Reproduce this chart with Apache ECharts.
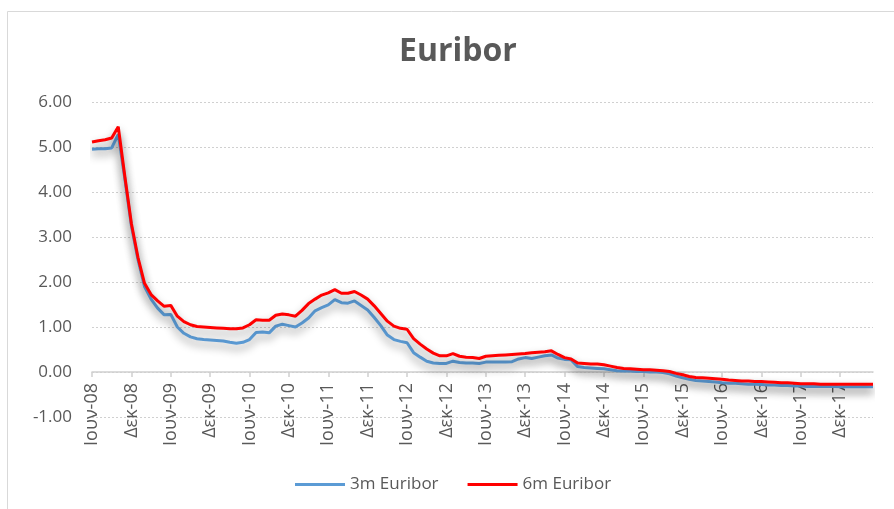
<!DOCTYPE html>
<html>
<head>
<meta charset="utf-8">
<script src="https://cdn.jsdelivr.net/npm/echarts@6/dist/echarts.min.js"></script>
<style>html,body{margin:0;padding:0;background:#fff;}#c{width:894px;height:509px;}</style>
</head>
<body>
<div id="c"></div>
<script>
var monthNames = ['Ιαν','Φεβ','Μαρ','Απρ','Μαϊ','Ιουν','Ιουλ','Αυγ','Σεπ','Οκτ','Νοε','Δεκ'];
var startYear = 2008, startMonth = 5, monthCount = 120;
var categories = [];
for (var i = 0; i < monthCount; i++) {
  var m = (startMonth + i) % 12;
  var y = startYear + Math.floor((startMonth + i) / 12);
  categories.push(monthNames[m] + '-' + String(y).slice(2));
}
var yTicks = [-1, 0, 1, 2, 3, 4, 5, 6];

var euribor3m = [
  4.95, 4.96, 4.96, 4.98, 5.28, 4.30, 3.25, 2.50, 1.90, 1.62,
  1.42, 1.27, 1.28, 1.00, 0.86, 0.78, 0.74, 0.72, 0.71, 0.70,
  0.69, 0.66, 0.64, 0.66, 0.72, 0.88, 0.89, 0.87, 1.02, 1.06,
  1.03, 1.00, 1.09, 1.20, 1.36, 1.43, 1.49, 1.61, 1.54, 1.53,
  1.58, 1.48, 1.38, 1.21, 1.03, 0.82, 0.72, 0.68, 0.65, 0.43,
  0.33, 0.24, 0.20, 0.19, 0.19, 0.24, 0.21, 0.20, 0.20, 0.19,
  0.22, 0.22, 0.22, 0.22, 0.23, 0.29, 0.32, 0.30, 0.33, 0.36,
  0.38, 0.31, 0.28, 0.27, 0.12, 0.10, 0.09, 0.08, 0.07, 0.05,
  0.03, 0.02, 0.02, 0.01, 0.01, 0.00, 0.00, -0.01, -0.04, -0.09,
  -0.13, -0.16, -0.19, -0.20, -0.21, -0.22, -0.24, -0.25, -0.25, -0.26,
  -0.27, -0.27, -0.28, -0.29, -0.29, -0.30, -0.30, -0.31, -0.31, -0.32,
  -0.32, -0.32, -0.32, -0.32, -0.33, -0.33, -0.33, -0.33, -0.33, -0.33
];
var euribor6m = [
  5.11, 5.14, 5.16, 5.20, 5.45, 4.35, 3.30, 2.55, 1.97, 1.72,
  1.58, 1.46, 1.48, 1.24, 1.12, 1.05, 1.01, 1.00, 0.99, 0.98,
  0.97, 0.96, 0.96, 0.98, 1.05, 1.16, 1.15, 1.15, 1.26, 1.29,
  1.27, 1.24, 1.37, 1.52, 1.62, 1.71, 1.76, 1.83, 1.75, 1.75,
  1.79, 1.71, 1.62, 1.47, 1.30, 1.13, 1.02, 0.97, 0.95, 0.74,
  0.62, 0.51, 0.42, 0.36, 0.36, 0.41, 0.35, 0.33, 0.32, 0.30,
  0.35, 0.36, 0.37, 0.38, 0.39, 0.40, 0.41, 0.43, 0.44, 0.45,
  0.47, 0.39, 0.32, 0.29, 0.20, 0.19, 0.18, 0.18, 0.16, 0.13,
  0.10, 0.08, 0.07, 0.06, 0.05, 0.05, 0.04, 0.03, 0.01, -0.03,
  -0.06, -0.10, -0.12, -0.13, -0.14, -0.15, -0.16, -0.18, -0.19, -0.20,
  -0.20, -0.21, -0.21, -0.22, -0.23, -0.24, -0.24, -0.25, -0.26, -0.26,
  -0.26, -0.27, -0.27, -0.27, -0.27, -0.27, -0.27, -0.27, -0.27, -0.27
];
var seriesNames = ['3m Euribor', '6m Euribor'];

var FONT = '"Open Sans", "DejaVu Sans", sans-serif';
var chart = echarts.init(document.getElementById('c'), null, {renderer: 'canvas'});
var shadow = {shadowColor: 'rgba(0,0,0,0.42)', shadowBlur: 8, shadowOffsetY: 5};
chart.setOption({
  animation: false,
  backgroundColor: '#fff',
  graphic: [{
    type: 'rect', left: 5, top: 9, z: -10,
    shape: {width: 960, height: 560},
    style: {fill: 'none', stroke: '#D9D9D9', lineWidth: 1}
  }],
  title: {
    text: 'Euribor', left: 394, top: 31,
    textStyle: {fontFamily: FONT, fontSize: 32, fontWeight: 'bold', color: '#595959'}
  },
  legend: {
    left: 290, top: 471, itemWidth: 50, itemHeight: 3, itemGap: 29,
    textStyle: {fontFamily: FONT, fontSize: 17, color: '#595959'},
    data: [{name: seriesNames[0], icon: 'rect'}, {name: seriesNames[1], icon: 'rect'}]
  },
  grid: {left: 92, right: 21, top: 102, bottom: 92, containLabel: false},
  xAxis: {
    type: 'category', data: categories, boundaryGap: false, z: 0,
    position: 'bottom', offset: -45,
    axisLine: {onZero: false, lineStyle: {color: '#D0D0D0', width: 1.5}},
    axisTick: {show: true, interval: 5, length: 5, lineStyle: {color: '#D0D0D0', width: 1.5}},
    axisLabel: {interval: 5, rotate: 90, margin: 11, color: '#595959', fontFamily: FONT, fontSize: 18},
    splitLine: {show: false}
  },
  yAxis: {
    type: 'value', min: yTicks[0], max: yTicks[yTicks.length - 1], interval: 1,
    axisLine: {show: false}, axisTick: {show: false},
    axisLabel: {margin: 20, color: '#595959', fontFamily: FONT, fontSize: 17,
      formatter: function (v) { return v.toFixed(2); }},
    splitLine: {lineStyle: {color: '#D0D0D0', type: [2, 2], width: 1}}
  },
  series: [
    {name: seriesNames[0], type: 'line', data: euribor3m, showSymbol: false, symbol: 'none',
     color: '#5B9BD5', lineStyle: Object.assign({color: '#5B9BD5', width: 3}, shadow), z: 3},
    {name: seriesNames[1], type: 'line', data: euribor6m, showSymbol: false, symbol: 'none',
     color: '#FF0000', lineStyle: Object.assign({color: '#FF0000', width: 3}, shadow), z: 4}
  ]
});
</script>
</body>
</html>
